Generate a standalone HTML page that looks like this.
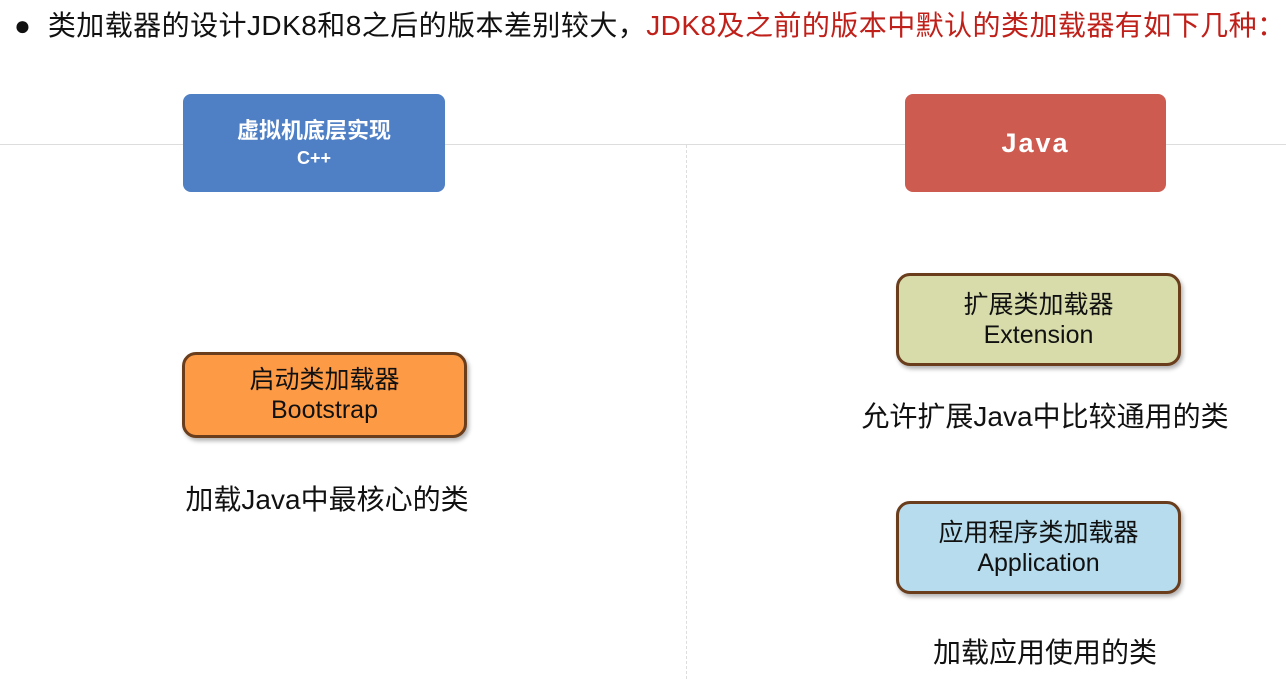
<!DOCTYPE html>
<html><head><meta charset="utf-8"><style>
body{margin:0;width:1286px;height:679px;background:#fff;position:relative;overflow:hidden;font-family:"Liberation Sans","Noto Sans CJK SC",sans-serif;color:#111}
.a{position:absolute}
.hl{left:0;top:144px;width:1286px;height:1px;background:#ddd}
.vl{left:686px;top:145px;height:534px;border-left:1px dashed #ddd}
.h{left:14px;top:7px;font-size:28px;white-space:nowrap;line-height:38px;letter-spacing:0.45px}
.h .r{color:#c0201a}
.top{color:#fff;font-weight:bold;text-align:center;border-radius:8px;display:flex;flex-direction:column;justify-content:center}
.box{border:3px solid #6a3d1c;border-radius:14px;box-sizing:border-box;text-align:center;font-size:25px;line-height:30px;display:flex;flex-direction:column;justify-content:center;box-shadow:2px 3px 4px rgba(0,0,0,.3)}
.cap{font-size:28px;text-align:center;width:400px;white-space:nowrap}
</style></head><body>
<div class="a hl"></div><div class="a vl"></div>
<div class="a h">● &nbsp;类加载器的设计JDK8和8之后的版本差别较大，<span class="r">JDK8及之前的版本中默认的类加载器有如下几种：</span></div>
<div class="a top" style="left:183px;top:94px;width:262px;height:98px;background:#4f7fc4"><div style="font-size:22px;line-height:30px">虚拟机底层实现</div><div style="font-size:18px;line-height:24px">C++</div></div>
<div class="a top" style="left:905px;top:94px;width:261px;height:98px;background:#cd5b50;font-size:27px;letter-spacing:2px">Java</div>
<div class="a box" style="left:182px;top:352px;width:285px;height:86px;background:#fd9a45"><div>启动类加载器</div><div>Bootstrap</div></div>
<div class="a box" style="left:896px;top:273px;width:285px;height:93px;background:#d7dcaa"><div>扩展类加载器</div><div>Extension</div></div>
<div class="a box" style="left:896px;top:501px;width:285px;height:93px;background:#b6dced"><div>应用程序类加载器</div><div>Application</div></div>
<div class="a cap" style="left:127px;top:478px">加载Java中最核心的类</div>
<div class="a cap" style="left:845px;top:395px">允许扩展Java中比较通用的类</div>
<div class="a cap" style="left:845px;top:631px">加载应用使用的类</div>
</body></html>
